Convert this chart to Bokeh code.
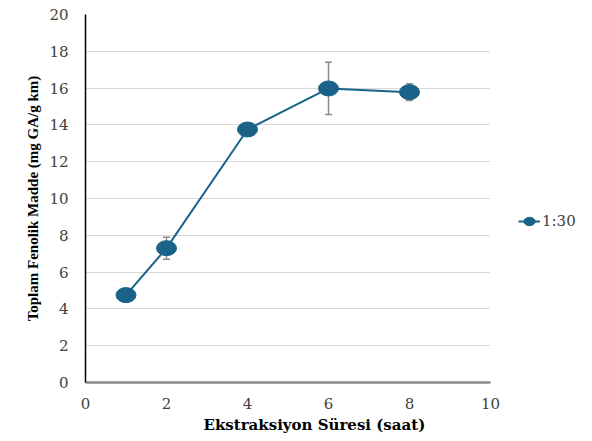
from bokeh.plotting import figure
from bokeh.models import ColumnDataSource, Whisker, TeeHead, Legend, LegendItem, Range1d, FixedTicker, Title
from bokeh.embed import file_html
from bokeh.resources import INLINE

hours = [1, 2, 4, 6, 8]
phenolic = [4.75, 7.3, 13.75, 15.98, 15.78]
err = [0.15, 0.6, 0.3, 1.42, 0.45]
series_name = "1:30"
x_ticks = [0, 2, 4, 6, 8, 10]
y_ticks = [0, 2, 4, 6, 8, 10, 12, 14, 16, 18, 20]

src = ColumnDataSource(data=dict(
    x=hours, y=phenolic,
    lo=[v - e for v, e in zip(phenolic, err)],
    hi=[v + e for v, e in zip(phenolic, err)],
))

C = "#1b6288"
FONT = "Liberation Serif"
TICKFONT = "DejaVu Serif"

p = figure(frame_width=405, frame_height=368, output_backend="svg", toolbar_location=None,
           x_range=Range1d(0, 10), y_range=Range1d(0, 20),
           min_border_left=85, min_border_right=0, min_border_top=14, min_border_bottom=40)
p.outline_line_color = None
p.background_fill_color = "white"

p.xgrid.grid_line_color = None
p.ygrid.grid_line_color = "#d9d9d9"
p.ygrid.grid_line_width = 1
p.xaxis.ticker = FixedTicker(ticks=x_ticks)
p.yaxis.ticker = FixedTicker(ticks=y_ticks)

for ax in (p.xaxis[0], p.yaxis[0]):
    ax.major_tick_line_color = None
    ax.minor_tick_line_color = None
    ax.major_label_text_font = TICKFONT
    ax.major_label_text_font_size = "15px"
    ax.major_label_text_color = "#404040"
    ax.axis_label_text_font = FONT
    ax.axis_label_text_font_style = "bold"
    ax.axis_label_text_color = "#000000"

p.yaxis.axis_line_color = "#000000"
p.yaxis.axis_line_width = 1.5
p.yaxis.major_label_standoff = 11
p.yaxis.axis_label = "Toplam Fenolik Madde (mg GA/g km)"
p.yaxis.axis_label_text_font_size = "15px"
p.yaxis.axis_label_standoff = 5

p.xaxis.axis_line_color = "#8a8a8a"
p.xaxis.axis_line_width = 2.5
p.xaxis.major_label_standoff = 9

xt = Title(text="Ekstraksiyon Süresi (saat)", align="left", offset=118, standoff=5,
           text_font="DejaVu Serif", text_font_size="15px", text_font_style="bold",
           text_color="#000000")
p.add_layout(xt, "below")

w = Whisker(source=src, base="x", lower="lo", upper="hi", line_color="#8c8c8c", line_width=1.5,
            upper_head=TeeHead(size=7, line_color="#8c8c8c", line_width=1.5),
            lower_head=TeeHead(size=7, line_color="#8c8c8c", line_width=1.5))
p.add_layout(w)

ln = p.line("x", "y", source=src, line_color=C, line_width=2)
el = p.ellipse("x", "y", source=src, width=20, height=15, width_units="screen", height_units="screen",
               fill_color=C, line_color=C)

legend = Legend(items=[LegendItem(label=series_name, renderers=[ln, el])],
                location=(28, 152), border_line_color=None, background_fill_alpha=0,
                label_text_font=TICKFONT, label_text_font_size="15px", label_text_color="#404040",
                glyph_width=22, glyph_height=14, label_standoff=2, padding=2, margin=0)
p.add_layout(legend, "right")

open("out.html", "w").write(file_html(p, INLINE))
